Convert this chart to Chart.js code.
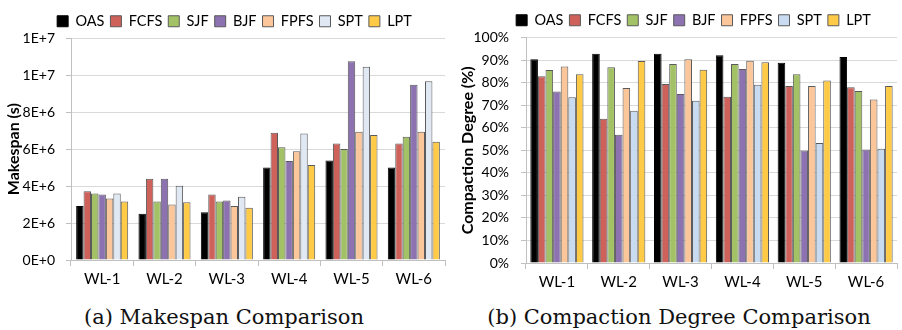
<!DOCTYPE html>
<html>
<head>
<meta charset="utf-8">
<script src="https://cdn.jsdelivr.net/npm/chart.js@4"></script>
<style>
  html, body { margin: 0; padding: 0; background: #fff; }
  body { width: 902px; height: 330px; position: relative; overflow: hidden; }
  .box { position: absolute; top: 0; height: 298px; }
  .cap {
    position: absolute; top: 305px; font-family: "DejaVu Serif", serif;
    font-size: 21px; color: #111; white-space: nowrap; text-align: center;
  }
</style>
</head>
<body>
<div class="box" style="left:0;width:450px"><canvas id="left"></canvas></div>
<div class="box" style="left:450px;width:452px"><canvas id="right"></canvas></div>
<div class="cap" style="left:0;width:448px">(a) Makespan Comparison</div>
<div class="cap" style="left:453px;width:452px">(b) Compaction Degree Comparison</div>
<script>
const workloads = ["WL-1", "WL-2", "WL-3", "WL-4", "WL-5", "WL-6"];
const policies = ["OAS", "FCFS", "SJF", "BJF", "FPFS", "SPT", "LPT"];
const colorsLeft = ["#000000", "#cf615b", "#a3c266", "#8c72b0", "#fcc69b", "#dfe8f3", "#ffcb47"];
const colorsRight = ["#000000", "#cf615b", "#a3c266", "#8c72b0", "#fcc69b", "#c8dbf0", "#ffcb47"];

// makespan in seconds, one array per policy (WL-1 .. WL-6)
const makespanOAS  = [2.92e6, 2.50e6, 2.59e6, 5.01e6, 5.39e6, 5.01e6];
const makespanFCFS = [3.73e6, 4.40e6, 3.55e6, 6.90e6, 6.31e6, 6.31e6];
const makespanSJF  = [3.60e6, 3.17e6, 3.17e6, 6.11e6, 6.02e6, 6.68e6];
const makespanBJF  = [3.55e6, 4.40e6, 3.22e6, 5.37e6, 10.77e6, 9.49e6];
const makespanFPFS = [3.33e6, 3.01e6, 2.92e6, 5.89e6, 6.95e6, 6.95e6];
const makespanSPT  = [3.60e6, 4.02e6, 3.42e6, 6.86e6, 10.47e6, 9.68e6];
const makespanLPT  = [3.17e6, 3.13e6, 2.83e6, 5.14e6, 6.77e6, 6.40e6];

// compaction degree in %
const compactOAS  = [90.3, 92.8, 92.8, 92.1, 88.8, 91.3];
const compactFCFS = [82.8, 64.0, 79.4, 73.7, 78.5, 77.9];
const compactSJF  = [85.6, 86.8, 88.2, 88.2, 83.7, 76.3];
const compactBJF  = [76.0, 56.9, 74.9, 86.0, 49.9, 50.3];
const compactFPFS = [87.1, 77.6, 90.3, 89.7, 78.5, 72.5];
const compactSPT  = [73.5, 67.5, 71.9, 79.0, 53.2, 50.7];
const compactLPT  = [83.7, 89.6, 85.7, 89.0, 80.9, 78.5];

const makespanTicks = ["0E+0", "2E+6", "4E+6", "6E+6", "8E+6", "1E+7", "1E+7"];
const compactTicks = ["0%", "10%", "20%", "30%", "40%", "50%", "60%", "70%", "80%", "90%", "100%"];

const makespanSeries = [makespanOAS, makespanFCFS, makespanSJF, makespanBJF, makespanFPFS, makespanSPT, makespanLPT];
const compactSeries = [compactOAS, compactFCFS, compactSJF, compactBJF, compactFPFS, compactSPT, compactLPT];

const FONT = "Lato, 'DejaVu Sans', sans-serif";

// shift the legend sideways a bit, it is not centred on the canvas in the original
const legendShift = {
  id: "legendShift",
  afterLayout(chart, args, opts) {
    const dx = opts.dx || 0;
    chart.legend.left += dx;
    chart.legend.right += dx;
  }
};

function makeChart(id, series, colors, yOpts) {
  return new Chart(document.getElementById(id), {
    type: "bar",
    data: {
      labels: workloads,
      datasets: policies.map((p, i) => ({
        label: p,
        data: series[i],
        backgroundColor: colors[i],
        borderColor: i === 0 ? "#000" : "#5a5a5a",
        borderWidth: 1,
        categoryPercentage: yOpts.catPct,
        barPercentage: 1.0
      }))
    },
    options: {
      responsive: false,
      animation: false,
      devicePixelRatio: 1,
      layout: { padding: { left: 0, right: 5, top: yOpts.padTop, bottom: 0 } },
      plugins: {
        legend: {
          position: "top",
          labels: {
            font: { family: FONT, size: 14.5 },
            color: "#000",
            boxWidth: 11,
            boxHeight: 11,
            padding: 6
          }
        },
        legendShift: { dx: yOpts.legendDx },
        tooltip: { enabled: false }
      },
      scales: {
        x: {
          offset: true,
          grid: { offset: true, drawOnChartArea: false, color: "#c0c0c0", tickLength: 6 },
          border: { color: "#c0c0c0" },
          ticks: { font: { family: FONT, size: 15 }, color: "#000", padding: 4 },
          afterFit(scale) { scale.height = yOpts.xHeight; }
        },
        y: {
          min: 0,
          max: yOpts.max,
          ticks: {
            stepSize: yOpts.step,
            font: { family: FONT, size: 14 },
            color: "#000",
            padding: yOpts.tickPad,
            callback: (v, i) => yOpts.tickLabels[i]
          },
          grid: { color: "#d9d9d9", tickLength: 5, tickColor: "#c0c0c0" },
          border: { color: "#c0c0c0" },
          title: {
            display: true,
            text: yOpts.title,
            font: { family: FONT, size: 16, weight: "bold" },
            color: "#000",
            padding: { top: yOpts.titlePad, bottom: 0 }
          },
          afterFit(scale) { scale.width = yOpts.yWidth; }
        }
      }
    }
  });
}

function sizeCanvas(id, w, h) {
  const c = document.getElementById(id);
  c.width = w; c.height = h;
  c.style.width = w + "px"; c.style.height = h + "px";
}
sizeCanvas("left", 450, 298);
sizeCanvas("right", 452, 298);

Chart.register(legendShift);

makeChart("left", makespanSeries, colorsLeft, {
  max: 12e6, step: 2e6, tickLabels: makespanTicks, title: "Makespan (s)",
  catPct: 0.835, yWidth: 71, xHeight: 38, tickPad: 11, titlePad: 4, legendDx: 12, padTop: 8
});
makeChart("right", compactSeries, colorsRight, {
  max: 100, step: 10, tickLabels: compactTicks, title: "Compaction Degree (%)",
  catPct: 0.86, yWidth: 76, xHeight: 35, tickPad: 12, titlePad: 8, legendDx: 20, padTop: 7
});
</script>
</body>
</html>
